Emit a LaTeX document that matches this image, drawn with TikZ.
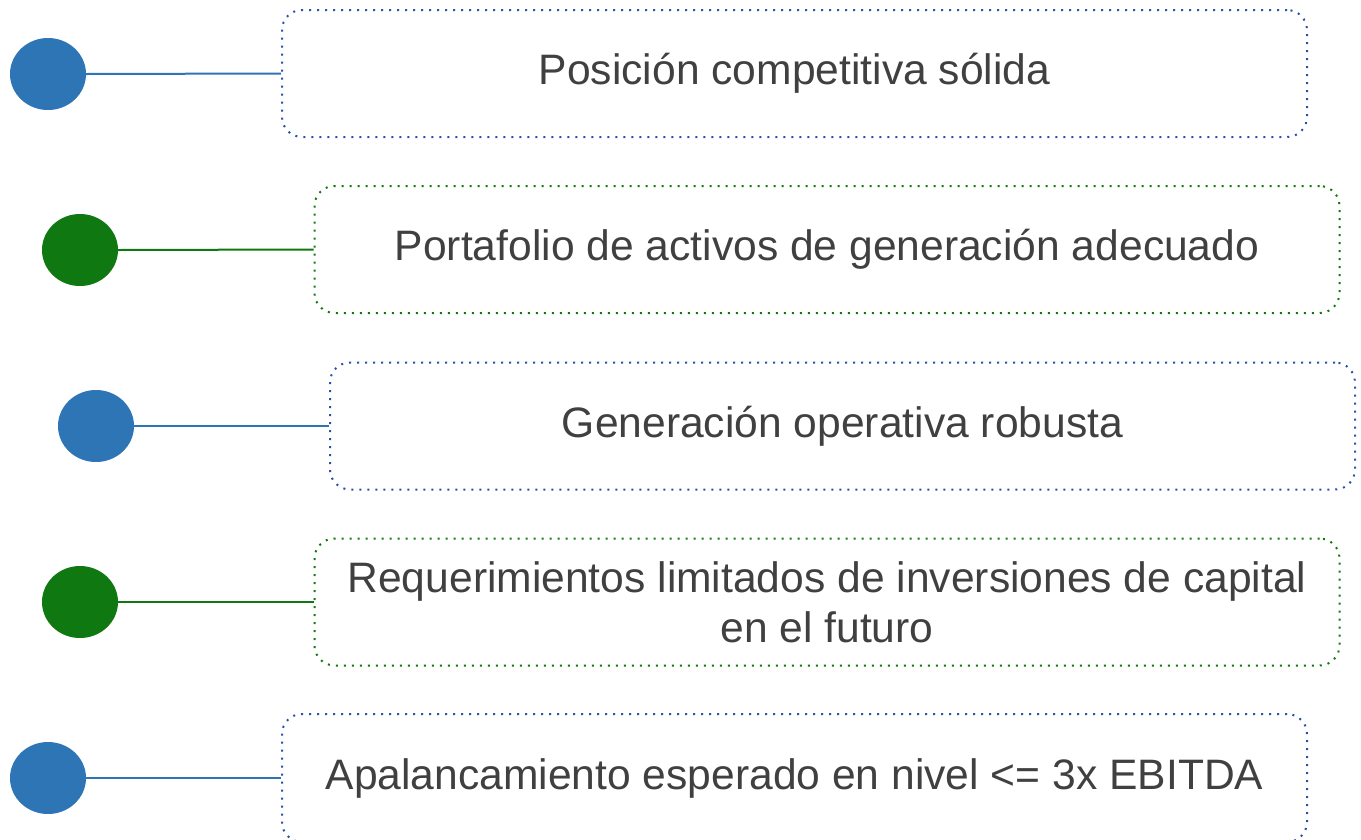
\documentclass[tikz,border=0pt]{standalone}
\usepackage{fontspec}
\setmainfont{Liberation Sans}
\usetikzlibrary{shapes.geometric}
\definecolor{cblue}{RGB}{46,117,182}
\definecolor{dblue}{RGB}{40,80,170}
\definecolor{cgreen}{RGB}{16,120,16}
\definecolor{tgray}{RGB}{64,64,64}
\begin{document}
\begin{tikzpicture}[x=1pt,y=-1pt,
  dotbox/.style={draw, rectangle, rounded corners=20pt, line width=2pt,
    dash pattern=on 2pt off 6pt, minimum width=1025pt, minimum height=127pt,
    inner sep=0pt, align=center, text=tgray, font=\fontsize{42.6}{50}\selectfont},
  dot/.style={ellipse, fill=#1, draw=none, minimum width=76pt, minimum height=72pt, inner sep=0pt},
  link/.style={draw=#1, line width=2pt}]
\useasboundingbox (0,0) rectangle (1361,839);
\clip (0,0) rectangle (1361,839);
\node[dotbox, draw=dblue] (b1) at (794.5,73.5) {Posición competitiva sólida};
\node[dotbox, draw=cgreen] (b2) at (827,249.5) {Portafolio de activos de generación adecuado};
\node[dotbox, draw=dblue] (b3) at (842.5,426) {Generación operativa robusta};
\node[dotbox, draw=cgreen] (b4) at (827,602) {Requerimientos limitados de inversiones de capital\\en el futuro};
\node[dotbox, draw=dblue, minimum height=128pt] (b5) at (794.5,778) {Apalancamiento esperado en nivel <= 3x EBITDA};
\node[dot=cblue] (c1) at (48,74) {};
\node[dot=cgreen] (c2) at (80,250) {};
\node[dot=cblue] (c3) at (96,426) {};
\node[dot=cgreen] (c4) at (80,602) {};
\node[dot=cblue] (c5) at (48,778) {};
\draw[link=cblue] (c1.east) -- (b1.west);
\draw[link=cgreen] (c2.east) -- (b2.west);
\draw[link=cblue] (c3.east) -- (b3.west);
\draw[link=cgreen] (c4.east) -- (b4.west);
\draw[link=cblue] (c5.east) -- (b5.west);
\end{tikzpicture}
\end{document}
